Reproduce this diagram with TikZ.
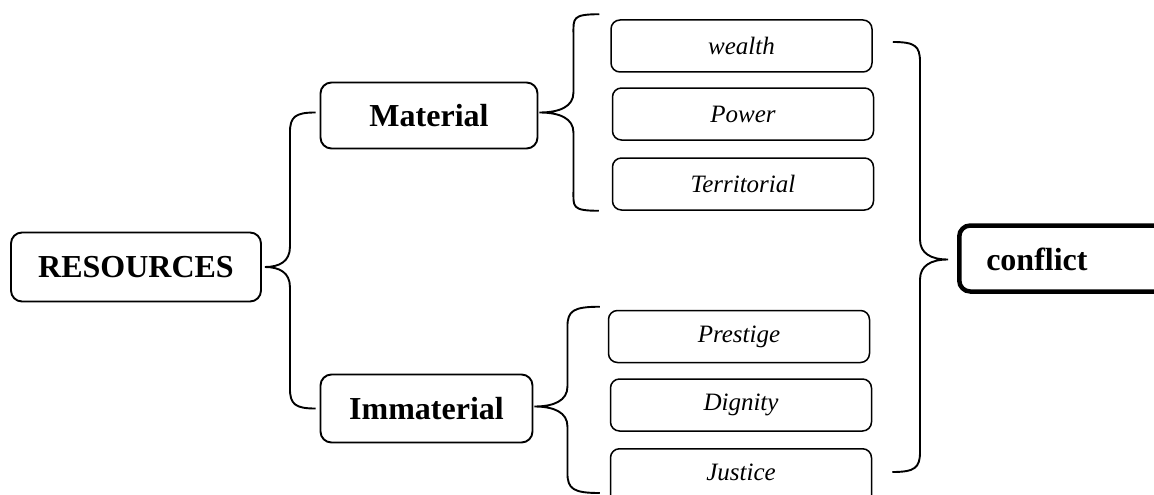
\documentclass[tikz,border=0pt]{standalone}
\usepackage{fontspec}
\setmainfont{Liberation Serif}
\usetikzlibrary{calc}

\tikzset{
	mainbox/.style={draw, line width=1.9pt, rounded corners=11pt, inner sep=0pt, font=\fontsize{32}{36}\selectfont\bfseries},
	itembox/.style={draw, line width=1.5pt, rounded corners=9pt, minimum width=261pt, minimum height=52pt, inner sep=0pt, font=\fontsize{25}{30}\selectfont\itshape},
	goalbox/.style={draw, line width=4.5pt, rounded corners=11pt, minimum height=66pt, text width=190pt, align=left, inner xsep=27pt, font=\fontsize{32}{36}\selectfont\bfseries},
	bracket/.style={line width=1.9pt}
}

\newcommand{\fanbrace}[4]{%
	\coordinate (bt) at #1;
	\coordinate (bp) at #2;
	\coordinate (bb) at #3;
	\draw[bracket] (bt) .. controls +({-0.8*#4},0) and +(0,-16) .. ($(bp |- bt)+(#4,20)$)
		-- ($(bp)+(#4,-20)$) .. controls +(0,14) and +({0.6*#4},0) .. (bp)
		.. controls +({0.6*#4},0) and +(0,-14) .. ($(bp)+(#4,20)$)
		-- ($(bp |- bb)+(#4,-20)$) .. controls +(0,16) and +({-0.8*#4},0) .. (bb);
}

\begin{document}
\begin{tikzpicture}[x=1pt,y=-1pt]
	\clip (0,0) rectangle (1154,495);

	\node[mainbox, minimum width=250pt, minimum height=69pt] (res) at (136,267) {RESOURCES};
	\node[mainbox, minimum width=217pt, minimum height=66pt] (mat) at (429,115.5) {Material};
	\node[mainbox, minimum width=212pt, minimum height=68pt] (imm) at (426.5,408.5) {Immaterial};

	\node[itembox] (wealth) at (741.5,46) {wealth};
	\node[itembox] (power) at (743,114) {Power};
	\node[itembox] (terr) at (743,184) {Territorial};
	\node[itembox] (prest) at (739,336.5) {Prestige};
	\node[itembox] (dign) at (741,405) {Dignity};
	\node[itembox, anchor=north, text height=32pt, text depth=30pt] (just) at (741,448) {Justice};

	\node[goalbox, anchor=west, text height=24pt, text depth=0pt] (confl) at (957,258.5) {conflict};

	\fanbrace{($(mat.west)+(-4,-3)$)}{($(res.east)+(3,0)$)}{($(imm.west)+(-4,0)$)}{25}
	\fanbrace{($(wealth.north west)+(-11,-5)$)}{($(mat.east)+(1,-3)$)}{($(terr.south west)+(-13,0)$)}{34}
	\fanbrace{($(prest.north west)+(-8,-3)$)}{($(imm.east)+(1,-2)$)}{($(just.north west)+(-10,45)$)}{33}
	\fanbrace{($(wealth.east)+(20,-4)$)}{($(confl.west)+(-9,1)$)}{($(just.north east)+(20,24)$)}{-28}
\end{tikzpicture}
\end{document}
